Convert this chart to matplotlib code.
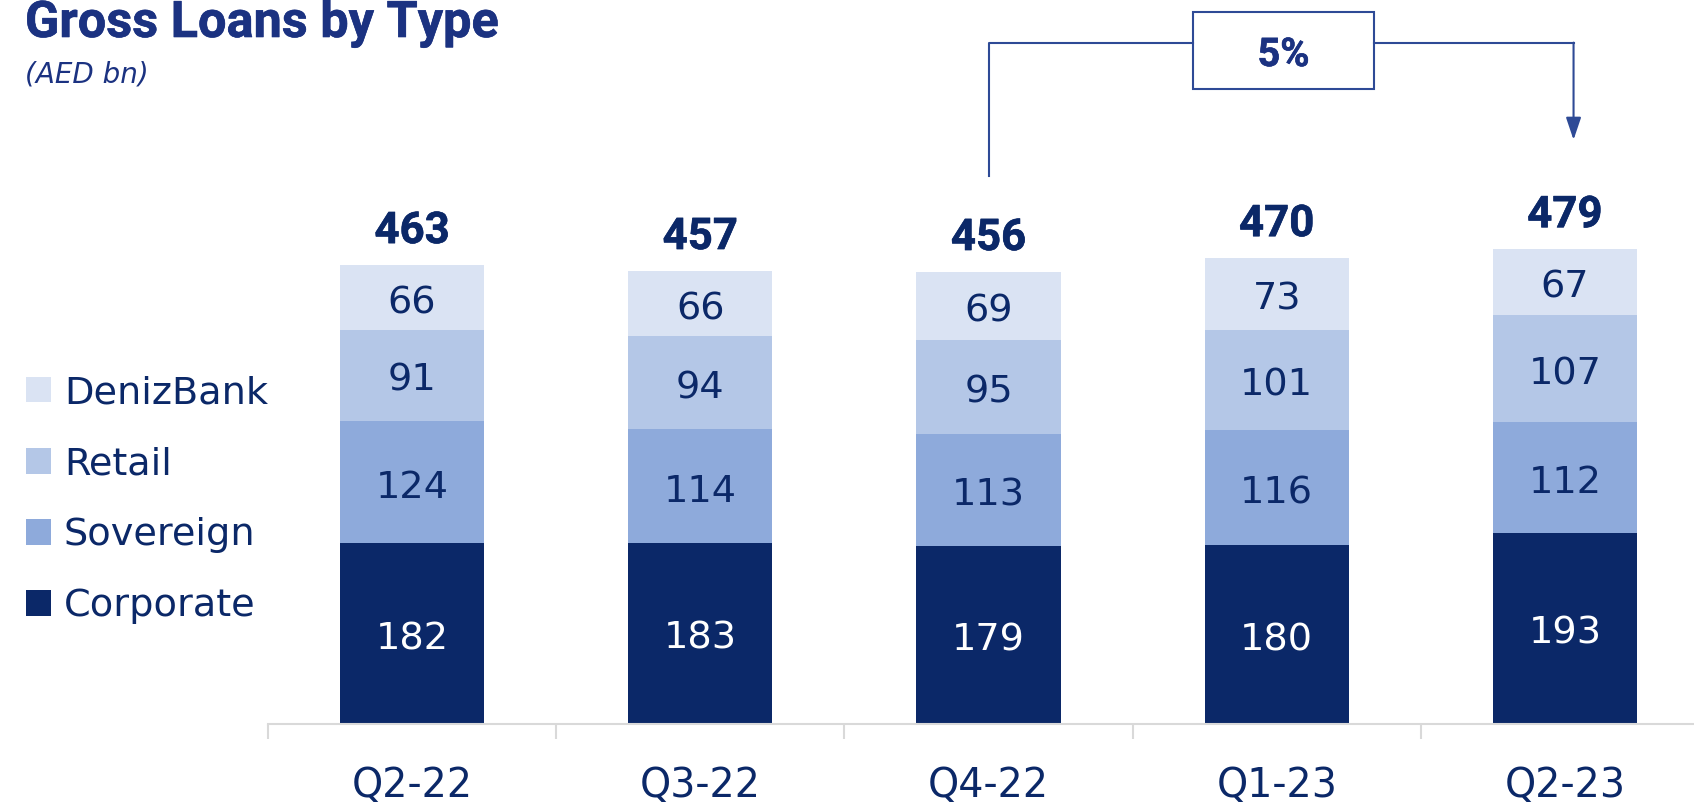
import matplotlib
matplotlib.use("Agg")
import matplotlib.pyplot as plt
import matplotlib.patheffects as pe
from matplotlib.patches import Rectangle
import numpy as np

# Gross loans by type, AED bn
quarters = ["Q2-22", "Q3-22", "Q4-22", "Q1-23", "Q2-23"]
corporate = [182, 183, 179, 180, 193]
sovereign = [124, 114, 113, 116, 112]
retail = [91, 94, 95, 101, 107]
denizbank = [66, 66, 69, 73, 67]
totals = [463, 457, 456, 470, 479]

NAVY = "#0b2868"
TITLE = "#1b3281"
LINE = "#2e4a96"
series_names = ["Corporate", "Sovereign", "Retail", "DenizBank"]
series_values = [corporate, sovereign, retail, denizbank]
series_colors = [NAVY, "#8eaadb", "#b4c7e7", "#dae3f3"]
label_colors = ["white", NAVY, NAVY, NAVY]

REGULAR = ["DejaVu Sans"]
BOLD = ["Roboto", "DejaVu Sans"]
plt.rcParams["font.family"] = REGULAR


def heavy(color):
    # slightly thicker strokes for the bold headline figures
    return [pe.withStroke(linewidth=0.45, foreground=color)]


fig = plt.figure(figsize=(16.94, 8.09), dpi=100)
ax = fig.add_axes([268 / 1694, 85 / 809, 1441 / 1694, 724 / 809])

x = np.arange(len(quarters))
bottom = np.zeros(len(quarters))
handles = []
for name, vals, col, tcol in zip(series_names, series_values, series_colors, label_colors):
    bars = ax.bar(x, vals, width=0.5, bottom=bottom, color=col, label=name, linewidth=0)
    for xi, b, v in zip(x, bottom, vals):
        ax.annotate(str(v), xy=(xi, b + v / 2), xytext=(0, -4), textcoords="offset points",
                    ha="center", va="center", fontsize=27.5, color=tcol)
    bottom += np.array(vals)
    handles.append(bars)

for xi, t in zip(x, totals):
    ax.text(xi, t + 34, str(t), ha="center", va="center", fontsize=31.5,
            fontweight="bold", color=NAVY, family=BOLD, path_effects=heavy(NAVY))

ax.set_xlim(-0.5, 4.5)
ax.set_ylim(0, 730)
for s in ("top", "right", "left"):
    ax.spines[s].set_visible(False)
ax.spines["bottom"].set_color("#d9d9d9")
ax.spines["bottom"].set_linewidth(1.5)
ax.set_yticks([])
ax.set_xticks(x)
ax.set_xticklabels(quarters, fontsize=28.5, color=NAVY)
ax.set_xticks(np.arange(-0.5, len(quarters)), minor=True)
ax.tick_params(axis="x", which="major", length=0, pad=30)
ax.tick_params(axis="x", which="minor", length=10.8, width=1.5, color="#d9d9d9")

# Growth bracket from Q4-22 to Q2-23
growth = round((totals[4] / totals[2] - 1) * 100)
x_left, x_right, y_top = 2.0, 4.03, 687
ax.plot([x_left, x_left, 2.71], [553, y_top, y_top], color=LINE, lw=1.5, clip_on=False)
ax.plot([3.338, x_right], [y_top, y_top], color=LINE, lw=1.5, clip_on=False)
ax.annotate("", xy=(x_right, 589), xytext=(x_right, y_top),
            arrowprops=dict(arrowstyle="-|>,head_length=0.68,head_width=0.23",
                            mutation_scale=20, color=LINE, lw=1.5,
                            shrinkA=0, shrinkB=0), annotation_clip=False)
ax.add_patch(Rectangle((2.71, 639.8), 0.628, 77.7, facecolor="white",
                       edgecolor=LINE, lw=1.5, clip_on=False))
ax.text(3.024, 674.5, f"{growth}%", ha="center", va="center", fontsize=28.5,
        fontweight="bold", color=TITLE, family=BOLD, path_effects=heavy(TITLE))

fig.text(25 / 1694, 1 - 37 / 809, "Gross Loans by Type", fontsize=36.3,
         fontweight="bold", color=TITLE, va="baseline", family=BOLD,
         path_effects=heavy(TITLE))
fig.text(25 / 1694, 1 - 83 / 809, "(AED bn)", fontsize=20, style="italic",
         color=TITLE, va="baseline")

fig.legend(handles[::-1], series_names[::-1], loc="upper left",
           bbox_to_anchor=(26 / 1694, 1 - 375 / 809), frameon=False, fontsize=27.5,
           handlelength=0.66, handleheight=0.66, handletextpad=0.33,
           labelspacing=0.92, borderpad=0, borderaxespad=0, labelcolor=NAVY)

fig.savefig("out.png", dpi=100)
